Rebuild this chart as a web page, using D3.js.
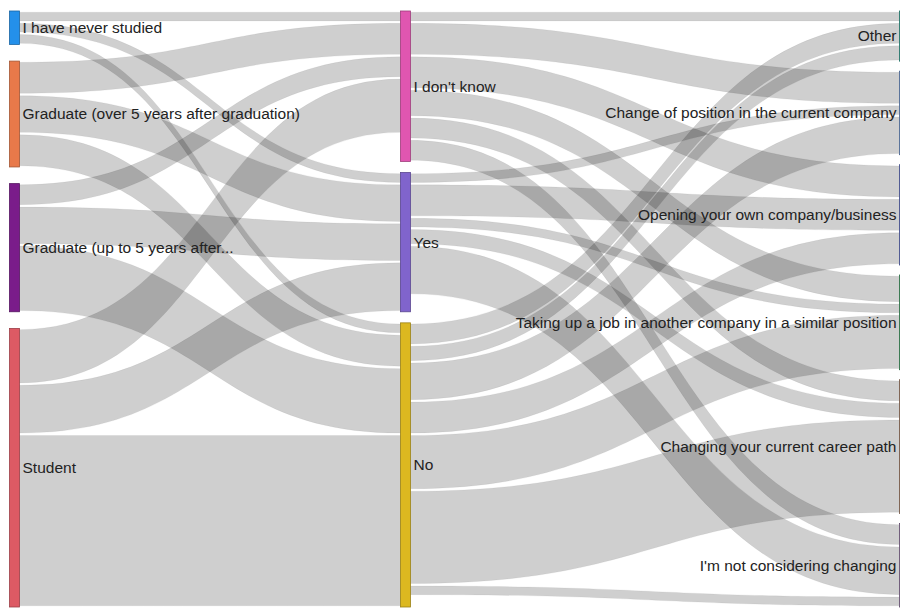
<!DOCTYPE html>
<html>
<head>
<meta charset="utf-8">
<style>
body { margin: 0; background: #fff; }
svg { display: block; }
svg text { font-family: Arial, "Liberation Sans", sans-serif; font-size: 15.5px; fill: #222; }
</style>
</head>
<body>
<div id="chart"></div>
<script src="https://cdn.jsdelivr.net/npm/d3@7"></script>
<script>
const education = ["I have never studied", "Graduate (over 5 years after graduation)", "Graduate (up to 5 years after...", "Student"];
const answers = ["I don't know", "Yes", "No"];
const plans = ["Other", "Change of position in the current company", "Opening your own company/business",
  "Taking up a job in another company in a similar position", "Changing your current career path", "I'm not considering changing"];

// [source, target, value] rows, the same pair may appear twice
const educationRows = [
  [education[0], "I don't know", 2], [education[0], "Yes", 2], [education[0], "No", 2],
  [education[1], "I don't know", 6], [education[1], "Yes", 7], [education[1], "No", 6],
  [education[2], "I don't know", 4], [education[2], "Yes", 7], [education[2], "No", 12],
  [education[3], "I don't know", 10], [education[3], "Yes", 9], [education[3], "No", 31]
];
const planRows = [
  ["I don't know", plans[0], 2], ["I don't know", plans[1], 6], ["I don't know", plans[2], 6],
  ["I don't know", plans[3], 5], ["I don't know", plans[4], 4], ["I don't know", plans[5], 4],
  ["Yes", plans[1], 2], ["Yes", plans[2], 6], ["Yes", plans[3], 2], ["Yes", plans[4], 3], ["Yes", plans[5], 9],
  ["No", plans[0], 4], ["No", plans[0], 3], ["No", plans[1], 7], ["No", plans[2], 6],
  ["No", plans[3], 10], ["No", plans[4], 17], ["No", plans[5], 2]
];

const educationColors = ["#2490ea", "#e8794a", "#7a1c8a", "#dd5a64"];
const answerColors = ["#e056b0", "#8064cc", "#dcb820"];
const planColors = ["#2f9e8f", "#6a8fc9", "#5c6bc0", "#3c9a5f", "#a07a62", "#8c6f9c"];

const width = 900, height = 609;
const margin = {top: 11, bottom: 2};
const nodeWidth = 10, nodePadding = 10, linkGap = 1.2;
const columnX = [9.5, 400.5, 899.5];

const columns = [education, answers, plans].map((names, c) =>
  names.map((name, i) => ({name, column: c, index: i, sourceLinks: [], targetLinks: []})));
[educationColors, answerColors, planColors].forEach((cols, c) =>
  columns[c].forEach((n, i) => n.color = cols[i]));
const nodes = columns.flat();
const byName = new Map(nodes.map(n => [n.name, n]));

const links = educationRows.concat(planRows).map(([s, t, value], i) =>
  ({source: byName.get(s), target: byName.get(t), value, order: i}));
links.forEach(l => { l.source.sourceLinks.push(l); l.target.targetLinks.push(l); });
nodes.forEach(n => n.value = Math.max(d3.sum(n.sourceLinks, l => l.value), d3.sum(n.targetLinks, l => l.value)));

// the tightest column decides the scale, the others are spread over the full height
const innerH = height - margin.top - margin.bottom;
const ky = d3.min(columns, col => (innerH - (col.length - 1) * nodePadding) / d3.sum(col, n => n.value));
const y = d3.scaleLinear().domain([0, 1]).range([0, ky]);

columns.forEach((col, c) => {
  const gap = (innerH - d3.sum(col, n => y(n.value))) / (col.length - 1);
  let y0 = margin.top;
  col.forEach(n => {
    n.x0 = columnX[c];
    n.x1 = n.x0 + nodeWidth;
    n.y0 = y0;
    n.y1 = y0 + y(n.value);
    y0 = n.y1 + gap;
  });
});

links.forEach(l => l.width = y(l.value));
nodes.forEach(n => {
  let sy = n.y0, ty = n.y0;
  n.sourceLinks.sort((a, b) => a.target.index - b.target.index || a.order - b.order)
    .forEach(l => { l.sy = sy; sy += l.width; });
  n.targetLinks.sort((a, b) => a.source.index - b.source.index || a.order - b.order)
    .forEach(l => { l.ty = ty; ty += l.width; });
});

function linkPath(l) {
  const x0 = l.source.x1, x1 = l.target.x0, xm = (x0 + x1) / 2;
  const a0 = l.sy + linkGap, a1 = l.ty + linkGap;
  const b0 = l.sy + l.width - linkGap, b1 = l.ty + l.width - linkGap;
  const p = d3.path();
  p.moveTo(x0, a0);
  p.bezierCurveTo(xm, a0, xm, a1, x1, a1);
  p.lineTo(x1, b1);
  p.bezierCurveTo(xm, b1, xm, b0, x0, b0);
  p.closePath();
  return p.toString();
}

const svg = d3.select("#chart").append("svg")
    .attr("width", width)
    .attr("height", height);

svg.append("g")
  .selectAll("path")
  .data(links)
  .join("path")
    .attr("d", linkPath)
    .attr("fill", "#000")
    .attr("fill-opacity", 0.19)
    .attr("stroke", "#000")
    .attr("stroke-opacity", 0.06)
    .attr("stroke-width", 0.8);

svg.append("g")
  .selectAll("rect")
  .data(nodes)
  .join("rect")
    .attr("x", d => d.x0)
    .attr("y", d => d.y0)
    .attr("width", nodeWidth)
    .attr("height", d => d.y1 - d.y0)
    .attr("fill", d => d.color)
    .attr("stroke", d => d3.color(d.color).darker(1))
    .attr("stroke-width", 0.8);

svg.append("g")
  .selectAll("text")
  .data(nodes)
  .join("text")
    .attr("x", d => d.column === 2 ? d.x0 - 3 : d.x1 + 3)
    .attr("y", d => (d.y0 + d.y1) / 2)
    .attr("dy", "0.35em")
    .attr("text-anchor", d => d.column === 2 ? "end" : "start")
    .text(d => d.name);
</script>
</body>
</html>
